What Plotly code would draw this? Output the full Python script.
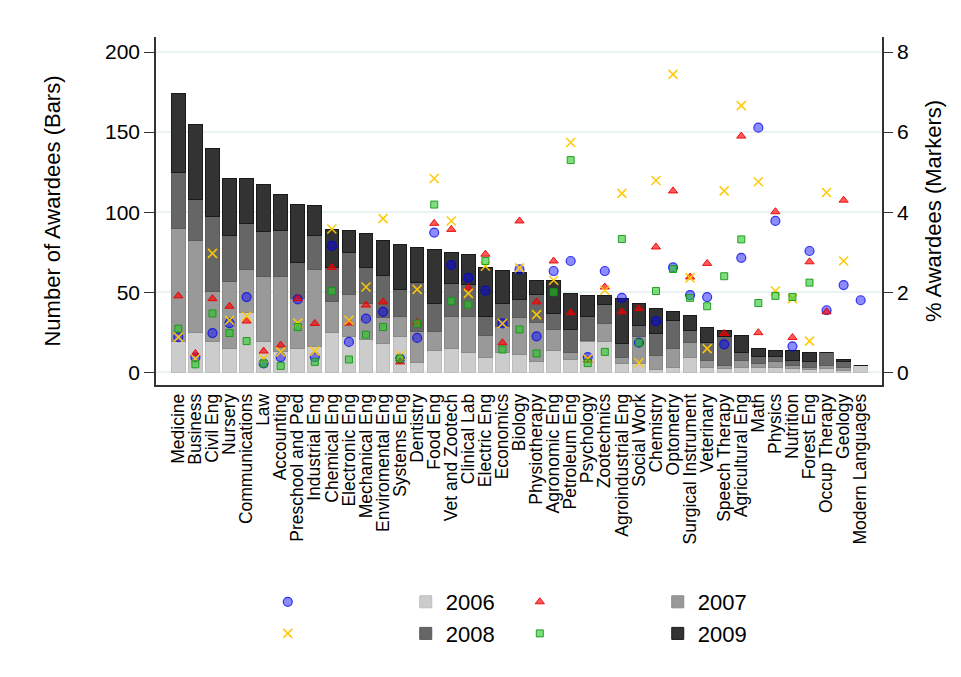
import plotly.graph_objects as go

majors = ["Medicine", "Business", "Civil Eng", "Nursery", "Communications", "Law", "Accounting",
          "Preschool and Ped", "Industrial Eng", "Chemical Eng", "Electronic Eng", "Mechanical Eng",
          "Enviromental Eng", "Systems Eng", "Dentistry", "Food Eng", "Vet and Zootech", "Clinical Lab",
          "Electric Eng", "Economics", "Biology", "Physiotherapy", "Agronomic Eng", "Petroleum Eng",
          "Psychology", "Zootechnics", "Agroindustrial Eng", "Social Work", "Chemistry", "Optometry",
          "Surgical Instrument", "Veterinary", "Speech Therapy", "Agricultural Eng", "Math", "Physics",
          "Nutrition", "Forest Eng", "Occup Therapy", "Geology", "Modern Languages"]

bars_2006 = [19, 24.8, 19, 15.2, 37.1, 19, 13.3, 14.8, 16.25, 24.8, 22.1, 20.6, 17.9, 22.1, 6, 13.75,
             14.8, 12.7, 9, 12.7, 11.25, 6.9, 13.75, 7.9, 19, 19, 5.4, 5.4, 1.7, 2.9, 9.2, 3.3, 2.3,
             2.9, 2.9, 3.3, 2.3, 1.7, 2.3, 1, 4]
bars_2007 = [70.8, 57.3, 31.2, 41.7, 27.1, 41, 46.7, 31.2, 47.9, 19.2, 26.65, 22.3, 16.3, 12.9, 19.2,
             12.05, 20.2, 22.3, 13.7, 16.05, 22.95, 24.1, 13.15, 4.2, 1, 11.8, 3.6, 17, 8.9, 11.9, 9.3,
             4.2, 2.1, 4.2, 2.5, 3.2, 2.1, 1.6, 2.1, 2.3, 0]
bars_2008 = [35, 25.8, 47.3, 28.7, 28.7, 27.7, 28.75, 22.5, 21.4, 21.4, 25.85, 22.5, 26.4, 16.7, 30.8,
             17.5, 20.4, 20, 11.9, 14.55, 11.2, 17.5, 9.8, 14.6, 14.6, 11.7, 8.9, 6.6, 13.6, 17.7, 7.75,
             11, 17.7, 5.6, 4.2, 3.5, 3.1, 3.2, 7.7, 3.2, 0]
bars_2009 = [49.4, 46.9, 42.3, 35.2, 27.9, 29.8, 22.3, 36.5, 18.4, 23.8, 14.15, 21.3, 21.5, 28.3, 21.9,
             33.6, 19.4, 18.75, 30.6, 20.45, 16.7, 8.6, 20.4, 22.5, 13.1, 5.2, 28.1, 13.9, 15.6, 5.2,
             9.35, 9.4, 4.15, 10.4, 5.6, 3.75, 6.25, 6.2, 0, 1.4, 0]

pct_2006 = [0.88, 0.37, 0.98, 1.23, 1.88, 0.22, 0.38, 1.82, 0.38, 3.16, 0.76, 1.34, 1.51, 0.34, 0.86,
            3.49, 2.68, 2.36, 2.04, 1.22, 2.57, 0.9, 2.53, 2.78, 0.38, 2.53, 1.86, 0.74, 1.28, 2.62,
            1.93, 1.88, 0.7, 2.86, 6.11, 3.78, 0.65, 3.03, 1.55, 2.18, 1.8]
pct_2007 = [1.91, 0.47, 1.84, 1.65, 1.28, 0.53, 0.68, 1.84, 1.22, 2.62, 1.23, 1.68, 1.76, 0.26, 1.25,
            3.72, 3.57, 2.11, 2.95, 0.74, 3.78, 1.76, 2.78, 1.49, 0.3, 2.13, 1.51, 1.59, 3.13, 4.53,
            2.38, 2.72, 0.97, 5.9, 0.99, 4.01, 0.87, 2.76, 1.51, 4.3, None]
pct_2008 = [0.88, 0.34, 2.97, 1.3, 1.4, 0.34, 0.51, 1.23, 0.53, 3.58, 1.3, 2.13, 3.84, 0.42, 2.07,
            4.84, 3.78, 1.97, 2.65, 1.22, 2.61, 1.44, 2.3, 5.74, 0.34, 2.05, 4.47, 0.24, 4.79, 7.44,
            2.36, 0.59, 4.53, 6.66, 4.76, 2.03, 1.84, 0.78, 4.49, 2.78, None]
pct_2009 = [1.09, 0.2, 1.47, 0.98, 0.78, 0.22, 0.16, 1.13, 0.26, 2.03, 0.32, 0.94, 1.13, 0.34, 1.22,
            4.19, 1.78, 1.69, 2.78, 0.57, 1.07, 0.47, 2.0, 5.3, 0.23, 0.51, 3.33, 0.74, 2.03, 2.58,
            1.86, 1.65, 2.4, 3.32, 1.73, 1.91, 1.88, 2.24, None, None, None]

years = ["2006", "2007", "2008", "2009"]
bar_series = [bars_2006, bars_2007, bars_2008, bars_2009]
pct_series = [pct_2006, pct_2007, pct_2008, pct_2009]
bar_fill = ["#cccccc", "#999999", "#666666", "#333333"]
bar_line = ["#bdbdbd", "#8a8a8a", "#5a5a5a", "#1a1a1a"]

marker_styles = [
    dict(symbol="circle", size=9, color="rgba(0,0,255,0.45)", line=dict(color="rgba(0,0,230,0.75)", width=1.2)),
    dict(symbol="triangle-up", size=8, color="rgba(255,0,0,0.65)", line=dict(color="rgba(230,0,0,0.9)", width=1)),
    dict(symbol="x-thin", size=9, color="rgba(255,200,0,0.95)", line=dict(color="rgba(255,200,0,0.95)", width=1.6)),
    dict(symbol="square", size=7, color="rgba(40,200,40,0.6)", line=dict(color="rgba(20,150,20,0.9)", width=1)),
]

fig = go.Figure()
for i in range(4):
    fig.add_trace(go.Bar(
        x=majors, y=bar_series[i], name=years[i], legend="legend2",
        marker=dict(color=bar_fill[i], line=dict(color=bar_line[i], width=1)),
        width=0.8, yaxis="y"))
for i in range(4):
    fig.add_trace(go.Scatter(
        x=majors, y=pct_series[i], name=" ", mode="markers", legend="legend",
        marker=marker_styles[i], yaxis="y2"))

font_family = "Liberation Sans, Arial, sans-serif"

# page body has an 8px margin, so the figure is slightly smaller than the window
fig.update_layout(
    width=953, height=669,
    barmode="stack",
    paper_bgcolor="white",
    plot_bgcolor="white",
    font=dict(family=font_family, color="#000000", size=21),
    margin=dict(l=148, r=79, t=29, b=292, autoexpand=False),
    xaxis=dict(
        type="category", range=[-1.31, 41.25], automargin=False,
        tickmode="array", tickvals=majors, ticktext=majors,
        tickangle=-90, tickfont=dict(size=17.5),
        showline=True, linecolor="#333333", linewidth=1.5,
        ticks="", showgrid=False, zeroline=False,
    ),
    yaxis=dict(
        range=[-7.9, 209.4], tickvals=[0, 50, 100, 150, 200], automargin=False,
        showline=True, linecolor="#333333", linewidth=1.5,
        ticks="outside", ticklen=10, tickcolor="#333333",
        showgrid=True, gridcolor="#eaf2f3", gridwidth=1.5, zeroline=False,
        title=dict(text="Number of Awardees (Bars)", font=dict(size=22), standoff=38),
        tickfont=dict(size=21),
    ),
    yaxis2=dict(
        range=[-0.317, 8.375], tickvals=[0, 2, 4, 6, 8], automargin=False,
        overlaying="y", side="right",
        showline=True, linecolor="#333333", linewidth=1.5,
        ticks="outside", ticklen=9, tickcolor="#333333",
        showgrid=False, zeroline=False,
        title=dict(text="% Awardees (Markers)", font=dict(size=22), standoff=18),
        tickfont=dict(size=21),
    ),
    legend=dict(
        orientation="h", x=0.154, xanchor="left", y=0.1435, yanchor="top", yref="container",
        entrywidth=207, entrywidthmode="pixels", traceorder="normal",
        font=dict(size=22), bgcolor="rgba(0,0,0,0)", tracegroupgap=0,
    ),
    legend2=dict(
        orientation="h", x=0.344, xanchor="left", y=0.1435, yanchor="top", yref="container",
        entrywidth=207, entrywidthmode="pixels", traceorder="normal",
        font=dict(size=22), bgcolor="rgba(0,0,0,0)", tracegroupgap=0,
    ),
)

fig.write_html("out.html")
